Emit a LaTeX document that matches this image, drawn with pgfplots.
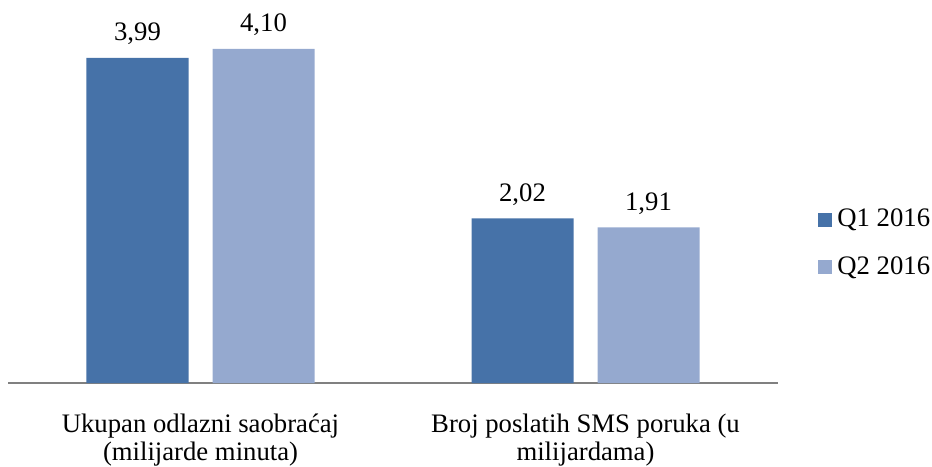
\documentclass[border=0pt]{standalone}
\usepackage{fontspec}
\setmainfont{Liberation Serif}
\usepackage{pgfplots}
\pgfplotsset{compat=1.18}
\definecolor{qone}{HTML}{4672A8}
\definecolor{qtwo}{HTML}{95A9CF}
\begin{document}
\fontsize{13.4}{14}\selectfont
\begin{tikzpicture}
\begin{axis}[
  scale only axis, width=385bp, height=183.4bp,
  ybar=12bp, bar width=51bp,
  xmin=-0.5, xmax=1.5, ymin=0, ymax=4.5,
  axis x line*=bottom, axis y line=none,
  x axis line style={draw=black!50, line width=0.8bp, -},
  xtick={0,1},
  xticklabels={{Ukupan odlazni saobraćaj\\(milijarde minuta)},{Broj poslatih SMS poruka (u\\milijardama)}},
  major tick length=0pt,
  xticklabel style={align=center, anchor=north, inner sep=0pt, yshift=-15.5bp, font=\fontsize{13.4}{14}\selectfont},
  ytick=\empty,
  clip=false,
  nodes near coords,
  nodes near coords style={anchor=base, inner sep=0pt, yshift=8.5bp, font=\fontsize{13.4}{14}\selectfont, text=black},
  /pgf/number format/use comma,
  /pgf/number format/fixed,
  /pgf/number format/fixed zerofill,
  /pgf/number format/precision=2,
  /pgf/number format/assume math mode=true,
  legend style={at={(1.052,0.38)}, anchor=west, draw=none, fill=none, inner sep=0pt, row sep=9bp, font=\fontsize{13.4}{14}\selectfont},
  legend cell align=left,
]
\addplot[fill=qone, draw=none, legend image code/.code={\fill[qone] (0bp,-3.5bp) rectangle (7bp,3.5bp); \path (7.5bp,0bp);}] coordinates {(0,3.99) (1,2.02)};
\addplot[fill=qtwo, draw=none, legend image code/.code={\fill[qtwo] (0bp,-3.5bp) rectangle (7bp,3.5bp); \path (7.5bp,0bp);}] coordinates {(0,4.10) (1,1.91)};
\legend{Q1 2016, Q2 2016}
\end{axis}
\pgfresetboundingbox
\path (-4bp,-42bp) rectangle (462bp,191.5bp);
\end{tikzpicture}
\end{document}
